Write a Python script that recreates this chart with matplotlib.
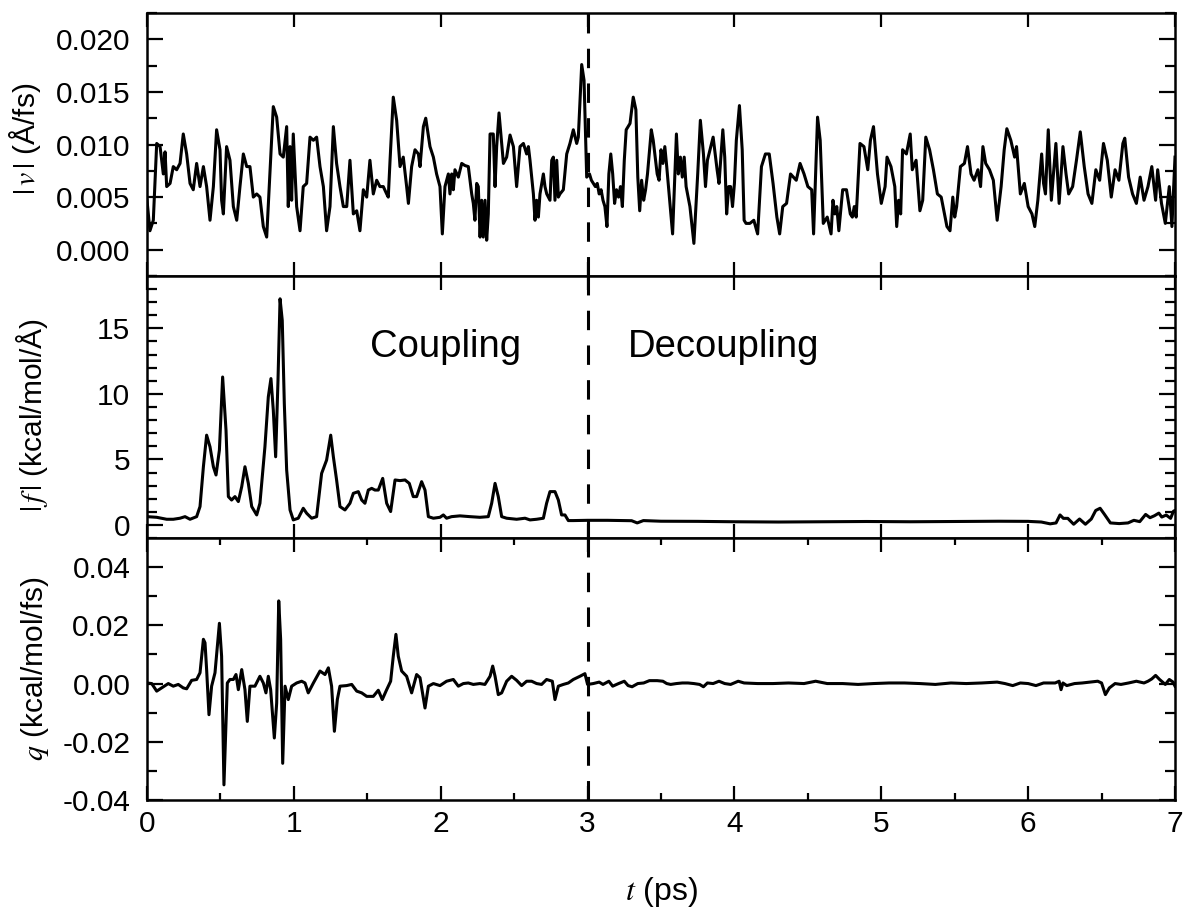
import matplotlib
matplotlib.use('Agg')
import matplotlib.pyplot as plt
from matplotlib.ticker import MultipleLocator, FixedLocator, FormatStrFormatter

plt.rcParams['font.family'] = ['Liberation Sans', 'DejaVu Sans']
plt.rcParams['mathtext.fontset'] = 'stix'
plt.rcParams['axes.unicode_minus'] = False
plt.rcParams['lines.scale_dashes'] = False

# ---------------- data ----------------
# |v| (A/fs) vs t (ps)
t_v = [0.000, 0.020, 0.043, 0.066, 0.089, 0.111, 0.123, 0.134, 0.157, 0.179, 0.202, 0.225, 0.247, 0.270,
       0.293, 0.315, 0.338, 0.361, 0.384, 0.406, 0.429, 0.452, 0.474, 0.497, 0.508, 0.520, 0.542, 0.565,
       0.588, 0.611, 0.633, 0.656, 0.679, 0.701, 0.724, 0.747, 0.769, 0.792, 0.815, 0.837, 0.860, 0.883,
       0.906, 0.928, 0.951, 0.962, 0.974, 0.985, 0.996, 1.019, 1.042, 1.064, 1.087, 1.110, 1.133, 1.155,
       1.178, 1.201, 1.223, 1.246, 1.269, 1.291, 1.314, 1.337, 1.360, 1.382, 1.405, 1.428, 1.450, 1.473,
       1.496, 1.518, 1.541, 1.564, 1.586,
       1.609, 1.632, 1.643, 1.655, 1.677, 1.700, 1.723, 1.745, 1.768, 1.780, 1.802, 1.825, 1.848, 1.859,
       1.882, 1.898, 1.927, 1.950, 1.972, 1.995, 2.011, 2.029, 2.052, 2.063, 2.075, 2.086, 2.097, 2.120,
       2.143, 2.165, 2.188, 2.211, 2.222, 2.233, 2.245, 2.256, 2.268, 2.279, 2.290, 2.302, 2.313, 2.324,
       2.336, 2.358, 2.370, 2.381, 2.397, 2.415, 2.427, 2.449, 2.472, 2.495, 2.517, 2.540, 2.563, 2.585,
       2.597, 2.608, 2.631, 2.642, 2.653, 2.665, 2.676, 2.699, 2.710, 2.722, 2.744, 2.756, 2.767, 2.778,
       2.790, 2.801, 2.812, 2.835, 2.858, 2.880, 2.903, 2.926, 2.937, 2.960, 2.976, 2.994,
       3.013, 3.026, 3.053, 3.066, 3.079, 3.092, 3.105, 3.118, 3.132, 3.145, 3.158, 3.171, 3.184, 3.197,
       3.211, 3.224, 3.237, 3.250, 3.263, 3.289, 3.311, 3.329, 3.342, 3.355, 3.368, 3.382, 3.395, 3.408,
       3.434, 3.447, 3.474, 3.487, 3.500, 3.513, 3.526, 3.539, 3.553, 3.579, 3.605, 3.618, 3.632, 3.645,
       3.658, 3.671, 3.697, 3.724, 3.750, 3.768, 3.789, 3.803, 3.816, 3.855, 3.882, 3.895, 3.921, 3.934,
       3.947, 3.961, 3.974, 3.987, 4.000, 4.013, 4.034, 4.053, 4.066, 4.079, 4.105, 4.132, 4.158, 4.184,
       4.211, 4.237, 4.263, 4.289, 4.308, 4.329, 4.355, 4.382, 4.421, 4.447, 4.474, 4.500, 4.526, 4.539,
       4.566, 4.584, 4.605, 4.632, 4.658, 4.671, 4.684, 4.697, 4.711, 4.737, 4.763, 4.789, 4.803, 4.816,
       4.829, 4.855, 4.882, 4.908, 4.926, 4.947, 4.974, 5.000, 5.026, 5.039, 5.066, 5.092, 5.105, 5.118,
       5.132, 5.145, 5.171, 5.197, 5.211, 5.237, 5.263, 5.282, 5.303, 5.329, 5.355, 5.382, 5.408, 5.447,
       5.468, 5.487, 5.500, 5.513, 5.539, 5.566, 5.587, 5.611, 5.632, 5.658, 5.676, 5.692, 5.711, 5.737,
       5.763, 5.789, 5.816, 5.837, 5.855, 5.882, 5.908, 5.921, 5.947, 5.974, 6.000, 6.026, 6.045, 6.066,
       6.092, 6.105, 6.118, 6.137, 6.158, 6.189, 6.211, 6.237, 6.258, 6.276, 6.303, 6.329, 6.355, 6.382,
       6.408, 6.434, 6.461, 6.487, 6.513, 6.539, 6.566, 6.592, 6.618, 6.645, 6.658, 6.684, 6.711, 6.737,
       6.763, 6.789, 6.816, 6.842, 6.868, 6.882, 6.908, 6.934, 6.961, 6.979, 7.000]
v_abs = [0.0047, 0.0018, 0.0028, 0.0101, 0.0098, 0.0072, 0.0093, 0.0060, 0.0063, 0.0079, 0.0076, 0.0082,
         0.0110, 0.0091, 0.0063, 0.0057, 0.0082, 0.0060, 0.0079, 0.0060, 0.0028, 0.0060, 0.0114, 0.0095,
         0.0047, 0.0034, 0.0098, 0.0085, 0.0041, 0.0028, 0.0060, 0.0091, 0.0079, 0.0079, 0.0050, 0.0053,
         0.0050, 0.0022, 0.0012, 0.0072, 0.0136, 0.0126, 0.0091, 0.0088, 0.0117, 0.0041, 0.0098, 0.0047,
         0.0110, 0.0041, 0.0018, 0.0060, 0.0063, 0.0107, 0.0104, 0.0107, 0.0079, 0.0060, 0.0018, 0.0041,
         0.0117, 0.0082, 0.0060, 0.0041, 0.0041, 0.0085, 0.0034, 0.0037, 0.0018, 0.0057, 0.0050, 0.0085,
         0.0053, 0.0066, 0.0060,
         0.0060, 0.0053, 0.0050, 0.0085, 0.0145, 0.0123, 0.0079, 0.0088, 0.0060, 0.0044, 0.0079, 0.0095,
         0.0091, 0.0079, 0.0117, 0.0125, 0.0098, 0.0088, 0.0072, 0.0060, 0.0015, 0.0060, 0.0072, 0.0053,
         0.0072, 0.0057, 0.0076, 0.0069, 0.0082, 0.0080, 0.0079, 0.0053, 0.0044, 0.0028, 0.0063, 0.0060,
         0.0012, 0.0047, 0.0012, 0.0047, 0.0009, 0.0034, 0.0110, 0.0110, 0.0060, 0.0098, 0.0130, 0.0101,
         0.0082, 0.0088, 0.0109, 0.0098, 0.0060, 0.0098, 0.0101, 0.0091, 0.0098, 0.0085, 0.0053, 0.0028,
         0.0047, 0.0031, 0.0053, 0.0072, 0.0060, 0.0053, 0.0047, 0.0085, 0.0088, 0.0047, 0.0085, 0.0050,
         0.0053, 0.0057, 0.0091, 0.0101, 0.0114, 0.0101, 0.0107, 0.0176, 0.0161, 0.0069,
         0.0072, 0.0066, 0.0060, 0.0063, 0.0053, 0.0057, 0.0047, 0.0041, 0.0022, 0.0072, 0.0091, 0.0072,
         0.0044, 0.0057, 0.0050, 0.0060, 0.0041, 0.0085, 0.0114, 0.0120, 0.0145, 0.0133, 0.0069, 0.0037,
         0.0066, 0.0047, 0.0057, 0.0072, 0.0114, 0.0104, 0.0072, 0.0066, 0.0095, 0.0082, 0.0098, 0.0079,
         0.0057, 0.0015, 0.0110, 0.0072, 0.0088, 0.0069, 0.0088, 0.0060, 0.0041, 0.0006, 0.0072, 0.0123,
         0.0091, 0.0060, 0.0085, 0.0107, 0.0076, 0.0063, 0.0114, 0.0088, 0.0034, 0.0060, 0.0060, 0.0041,
         0.0063, 0.0104, 0.0137, 0.0095, 0.0028, 0.0025, 0.0025, 0.0028, 0.0015, 0.0079, 0.0091, 0.0091,
         0.0063, 0.0031, 0.0015, 0.0041, 0.0044, 0.0072, 0.0066, 0.0082, 0.0072, 0.0060, 0.0057, 0.0015,
         0.0126, 0.0104, 0.0025, 0.0031, 0.0015, 0.0047, 0.0034, 0.0041, 0.0018, 0.0057, 0.0057, 0.0034,
         0.0031, 0.0041, 0.0031, 0.0101, 0.0098, 0.0076, 0.0104, 0.0117, 0.0072, 0.0044, 0.0060, 0.0088,
         0.0079, 0.0060, 0.0022, 0.0047, 0.0034, 0.0095, 0.0091, 0.0110, 0.0076, 0.0085, 0.0037, 0.0047,
         0.0107, 0.0095, 0.0076, 0.0053, 0.0050, 0.0022, 0.0018, 0.0050, 0.0031, 0.0041, 0.0079, 0.0082,
         0.0098, 0.0072, 0.0066, 0.0076, 0.0060, 0.0098, 0.0082, 0.0076, 0.0066, 0.0028, 0.0060, 0.0095,
         0.0115, 0.0104, 0.0088, 0.0098, 0.0053, 0.0063, 0.0041, 0.0034, 0.0022, 0.0047, 0.0091, 0.0063,
         0.0053, 0.0114, 0.0047, 0.0101, 0.0044, 0.0098, 0.0072, 0.0053, 0.0060, 0.0085, 0.0112, 0.0079,
         0.0053, 0.0044, 0.0076, 0.0066, 0.0101, 0.0085, 0.0050, 0.0076, 0.0066, 0.0101, 0.0106, 0.0069,
         0.0053, 0.0044, 0.0069, 0.0047, 0.0060, 0.0079, 0.0047, 0.0076, 0.0044, 0.0025, 0.0060, 0.0022,
         0.0088]

# |f| (kcal/mol/A) vs t (ps)
t_f = [0.000, 0.066, 0.134, 0.179, 0.225, 0.259, 0.293, 0.338, 0.361, 0.384, 0.406, 0.429, 0.452, 0.470,
       0.493, 0.515, 0.538, 0.554, 0.576, 0.599, 0.622, 0.645, 0.667, 0.690, 0.713, 0.747, 0.769, 0.803,
       0.826, 0.844, 0.860, 0.876, 0.892, 0.906, 0.921, 0.935, 0.951, 0.974, 0.996, 1.030, 1.064, 1.087,
       1.121, 1.155, 1.189, 1.223, 1.251, 1.269, 1.291, 1.314, 1.348, 1.382, 1.405, 1.439, 1.462, 1.484,
       1.507, 1.530, 1.552, 1.575, 1.605, 1.632, 1.659, 1.689, 1.723, 1.757, 1.786, 1.813, 1.836, 1.870,
       1.893, 1.916, 1.950, 1.995, 2.018, 2.040, 2.074, 2.131, 2.199, 2.267, 2.324, 2.347, 2.370, 2.392,
       2.415, 2.449, 2.517, 2.574, 2.608, 2.653, 2.699, 2.721, 2.744, 2.778, 2.801, 2.823, 2.846, 2.869,
       2.903, 3.000, 3.135, 3.300, 3.338, 3.380, 3.500, 3.750, 4.000, 4.300, 4.600, 4.900, 5.200, 5.500,
       5.800, 6.000, 6.090, 6.150, 6.190, 6.217, 6.240, 6.270, 6.310, 6.350, 6.390, 6.430, 6.460, 6.490,
       6.520, 6.560, 6.620, 6.680, 6.720, 6.760, 6.800, 6.830, 6.860, 6.890, 6.910, 6.940, 6.970, 6.990,
       7.000]
f_abs = [0.63, 0.58, 0.43, 0.43, 0.51, 0.63, 0.43, 0.63, 1.40, 4.44, 6.85, 5.96, 4.44, 3.81, 5.71, 11.29,
         7.23, 2.16, 1.90, 2.16, 1.78, 2.92, 4.44, 3.17, 1.40, 0.76, 1.65, 5.96, 9.77, 11.17, 8.76, 5.20,
         11.04, 17.26, 15.61, 9.26, 4.19, 1.14, 0.38, 0.51, 1.27, 0.89, 0.51, 0.63, 3.93, 4.95, 6.85, 5.20,
         3.43, 1.40, 1.14, 1.65, 2.41, 2.54, 1.90, 1.65, 2.66, 2.79, 2.66, 2.66, 3.55, 1.65, 1.02, 3.43,
         3.38, 3.43, 3.17, 2.16, 2.16, 3.30, 2.66, 0.63, 0.51, 0.58, 0.76, 0.51, 0.63, 0.69, 0.63, 0.58,
         0.63, 1.65, 3.17, 2.16, 0.63, 0.51, 0.43, 0.51, 0.38, 0.43, 0.51, 1.65, 2.54, 2.54, 1.90, 0.76,
         0.76, 0.33, 0.33, 0.35, 0.35, 0.32, 0.15, 0.33, 0.28, 0.27, 0.24, 0.22, 0.24, 0.26, 0.24, 0.26,
         0.28, 0.27, 0.22, 0.08, 0.15, 0.76, 0.50, 0.50, 0.05, 0.45, 0.05, 0.45, 1.10, 1.27, 0.80, 0.15,
         0.10, 0.15, 0.35, 0.25, 0.80, 0.55, 0.70, 0.90, 0.60, 0.75, 0.50, 1.05, 1.10]

# q (kcal/mol/fs) vs t (ps)
t_q = [0.000, 0.032, 0.066, 0.100, 0.145, 0.179, 0.213, 0.247, 0.270, 0.304, 0.338, 0.361, 0.384, 0.395,
       0.406, 0.422, 0.440, 0.463, 0.493, 0.508, 0.524, 0.547, 0.565, 0.588, 0.606, 0.622, 0.645, 0.667,
       0.683, 0.701, 0.735, 0.769, 0.792, 0.810, 0.826, 0.842, 0.867, 0.883, 0.897, 0.910, 0.924, 0.940,
       0.962, 0.985, 1.019, 1.053, 1.076, 1.098, 1.133, 1.178, 1.212, 1.235, 1.257, 1.276, 1.296, 1.314,
       1.359, 1.394, 1.428, 1.462, 1.496, 1.541, 1.575, 1.602, 1.632, 1.659, 1.677, 1.695, 1.711, 1.734,
       1.768, 1.802, 1.836, 1.859, 1.893, 1.916, 1.950, 1.995, 2.040, 2.086, 2.120, 2.154, 2.188, 2.222,
       2.267, 2.301, 2.336, 2.354, 2.370, 2.392, 2.415, 2.449, 2.483, 2.517, 2.551, 2.585, 2.619, 2.653,
       2.687, 2.721, 2.760, 2.778, 2.801, 2.835, 2.869, 2.903, 2.948, 2.982,
       3.000, 3.039, 3.079, 3.105, 3.145, 3.171, 3.211, 3.250, 3.276, 3.303, 3.342, 3.382, 3.421, 3.474,
       3.513, 3.539, 3.566, 3.605, 3.645, 3.684, 3.724, 3.763, 3.789, 3.816, 3.855, 3.895, 3.934, 3.974,
       4.026, 4.066, 4.158, 4.263, 4.368, 4.474, 4.553, 4.632, 4.737, 4.842, 4.947, 5.053, 5.158, 5.263,
       5.368, 5.474, 5.579, 5.684, 5.789, 5.842, 5.895, 5.947, 6.000, 6.053, 6.105, 6.184, 6.211, 6.224,
       6.237, 6.263, 6.316, 6.368, 6.421, 6.474, 6.500, 6.526, 6.553, 6.592, 6.632, 6.684, 6.737, 6.789,
       6.816, 6.842, 6.868, 6.895, 6.934, 6.961, 6.987, 7.000]
q_val = [0.0002, 0.0000, -0.0026, -0.0015, 0.0000, -0.0009, -0.0003, -0.0015, -0.0018, 0.0011, 0.0014,
         0.0037, 0.0152, 0.0140, 0.0048, -0.0107, -0.0009, 0.0037, 0.0207, 0.0094, -0.0348, 0.0002,
         0.0014, 0.0014, 0.0031, -0.0021, 0.0048, -0.0021, -0.0130, -0.0009, -0.0009, 0.0025, 0.0002,
         -0.0032, 0.0025, -0.0021, -0.0187, -0.0067, 0.0284, 0.0152, -0.0274, -0.0009, -0.0055, -0.0009,
         0.0002, 0.0008, 0.0002, -0.0032, 0.0002, 0.0043, 0.0031, 0.0054, -0.0009, -0.0164, -0.0055,
         -0.0009, -0.0007, -0.0003, -0.0026, -0.0032, -0.0044, -0.0044, -0.0023, -0.0055, -0.0021, 0.0008,
         0.0094, 0.0169, 0.0094, 0.0043, 0.0025, -0.0032, 0.0031, 0.0020, -0.0084, -0.0009, 0.0000,
         -0.0007, 0.0008, 0.0014, -0.0009, 0.0000, 0.0002, -0.0003, 0.0000, -0.0003, 0.0025, 0.0060,
         0.0025, -0.0038, -0.0032, 0.0008, 0.0025, 0.0011, -0.0007, 0.0008, 0.0008, 0.0000, -0.0003,
         0.0014, 0.0008, -0.0055, -0.0009, -0.0003, 0.0002, 0.0014, 0.0025, 0.0034,
         -0.0003, 0.0000, 0.0005, -0.0003, 0.0008, -0.0009, 0.0000, 0.0008, -0.0007, -0.0011, 0.0000,
         0.0002, 0.0010, 0.0010, 0.0008, 0.0000, -0.0003, 0.0000, 0.0002, 0.0002, 0.0000, -0.0003,
         -0.0011, 0.0002, 0.0000, 0.0008, 0.0000, -0.0003, 0.0008, 0.0002, 0.0000, 0.0000, 0.0002,
         0.0000, 0.0008, 0.0000, 0.0000, -0.0003, 0.0000, 0.0002, 0.0002, 0.0000, -0.0003, 0.0002,
         0.0000, 0.0002, 0.0005, 0.0000, -0.0007, 0.0002, 0.0000, -0.0007, 0.0002, 0.0002, 0.0008,
         -0.0021, 0.0002, -0.0007, 0.0000, 0.0002, 0.0005, 0.0008, 0.0002, -0.0038, -0.0015, 0.0000,
         -0.0003, 0.0002, 0.0008, 0.0002, 0.0008, 0.0016, 0.0028, 0.0014, -0.0003, 0.0014, 0.0005,
         -0.0009]

v_ticks = [0.000, 0.005, 0.010, 0.015, 0.020]
f_ticks = [0, 5, 10, 15]
q_ticks = [-0.04, -0.02, 0.00, 0.02, 0.04]
t_ticks = [0, 1, 2, 3, 4, 5, 6, 7]
t_switch = 3.0

# ---------------- figure ----------------
fig = plt.figure(figsize=(11.86, 9.11), dpi=100)
L, W = 147 / 1186, 1028 / 1186
ax1 = fig.add_axes([L, 1 - 276 / 911, W, 263 / 911])
ax2 = fig.add_axes([L, 1 - 538 / 911, W, 262 / 911])
ax3 = fig.add_axes([L, 1 - 800 / 911, W, 262 / 911])

LW = 2.2
ax1.plot(t_v, v_abs, color='k', lw=LW, solid_joinstyle='round')
ax2.plot(t_f, f_abs, color='k', lw=LW, solid_joinstyle='round')
ax3.plot(t_q, q_val, color='k', lw=LW, solid_joinstyle='round')

for ax in (ax1, ax2, ax3):
    ax.axvline(t_switch, color='k', lw=2.2, dashes=(14, 11))
    ax.set_xlim(0, 7)
    ax.set_xticks(t_ticks)
    for s in ax.spines.values():
        s.set_linewidth(1.8)
    ax.tick_params(which='both', direction='in', top=True, right=True,
                   labelsize=21.5, width=1.6)
    ax.tick_params(axis='y', which='major', length=11.5, pad=12)
    ax.tick_params(axis='y', which='minor', length=7)
    ax.tick_params(axis='x', which='major', length=10, pad=7)
    ax.tick_params(axis='x', which='minor', length=5)

ax1.set_ylim(-0.0025, 0.0225)
ax1.set_yticks(v_ticks)
ax1.yaxis.set_minor_locator(MultipleLocator(0.0025))
ax1.yaxis.set_major_formatter(FormatStrFormatter('%.3f'))
ax1.tick_params(axis='x', labelbottom=False)

ax2.set_ylim(-1, 19)
ax2.set_yticks(f_ticks)
ax2.yaxis.set_minor_locator(MultipleLocator(1))
ax2.tick_params(axis='x', labelbottom=False)

ax3.set_ylim(-0.04, 0.05)
ax3.set_yticks(q_ticks)
ax3.yaxis.set_minor_locator(FixedLocator([-0.03, -0.01, 0.01, 0.03]))
ax3.yaxis.set_major_formatter(FormatStrFormatter('%.2f'))
ax3.xaxis.set_minor_locator(MultipleLocator(0.5))

ax1.set_ylabel(r'$|\,v\,|$ (Å/fs)', fontsize=21.5)
ax2.set_ylabel(r'$|\,f\,|$ (kcal/mol/Å)', fontsize=21.5)
ax3.set_ylabel(r'$q$ (kcal/mol/fs)', fontsize=21.5)
ax1.yaxis.set_label_coords(-0.101, 0.52)
ax2.yaxis.set_label_coords(-0.094, 0.47)
ax3.yaxis.set_label_coords(-0.093, 0.50)

ax3.set_xlabel(r'$t$ (ps)', fontsize=23)
ax3.xaxis.set_label_coords(0.5, -0.285)

ax2.text(1.52, 12.8, 'Coupling', fontsize=27.5, ha='left', va='baseline')
ax2.text(3.275, 12.8, 'Decoupling', fontsize=27.5, ha='left', va='baseline')

fig.savefig('out.png', dpi=100)
